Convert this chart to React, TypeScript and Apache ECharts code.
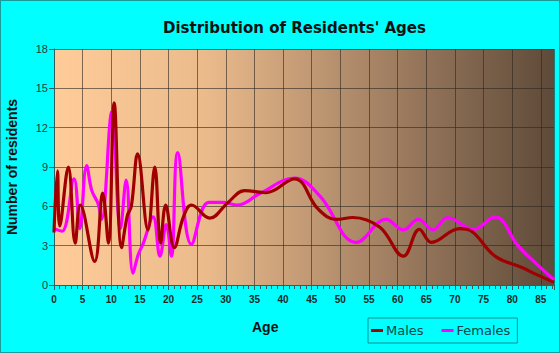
import React, { useEffect, useRef } from "react";
import * as echarts from "echarts";

const maleAges = [0, 0.6, 1.0, 2.5, 3.7, 4.6, 7.1, 8.5, 9.5, 10.5, 11.8, 12.8, 13.5, 14.6, 16.4, 17.6, 18.6, 19.5, 21.0, 22.6, 24.0, 27.2, 30.4, 33.3, 37.1, 42.0, 46.1, 49.3, 52.2, 56.9, 61.0, 63.8, 65.9, 70.8, 72.9, 77.0, 81.6, 84.0, 87.3];
const maleCounts = [4.0, 8.7, 4.5, 9.0, 3.2, 6.1, 1.8, 7.0, 3.2, 13.9, 2.85, 5.3, 6.0, 10.0, 4.2, 9.0, 3.2, 6.1, 2.85, 5.2, 6.1, 5.1, 6.3, 7.2, 7.05, 8.1, 5.8, 5.0, 5.15, 4.4, 2.2, 4.25, 3.25, 4.3, 4.1, 2.2, 1.35, 0.85, 0.2];

const femaleAges = [0, 1.4, 3.5, 4.5, 5.7, 6.6, 7.7, 8.3, 10.1, 11.6, 12.6, 13.8, 14.7, 15.6, 17.3, 18.5, 19.6, 20.5, 21.6, 24.0, 27.0, 29.5, 32.0, 36.0, 42.0, 46.4, 52.8, 58.0, 61.0, 63.6, 66.2, 68.7, 73.2, 77.0, 81.0, 84.0, 87.3];
const femaleCounts = [4.3, 4.1, 8.1, 4.3, 9.1, 7.2, 6.2, 5.0, 13.2, 4.3, 8.0, 0.9, 2.3, 3.2, 5.2, 2.2, 4.6, 2.2, 10.1, 3.1, 6.3, 6.3, 6.1, 7.0, 8.15, 6.8, 3.25, 5.0, 4.2, 5.0, 4.2, 5.15, 4.25, 5.2, 3.0, 1.7, 0.4];

const yTicks = [0, 3, 6, 9, 12, 15, 18];
const xTickStep = 5;

export default function App() {
  const ref = useRef<HTMLDivElement>(null);
  useEffect(() => {
    if (!ref.current) return;
    const chart = echarts.init(ref.current, undefined, { renderer: "svg" });
    const font = "'Liberation Sans', Arial, sans-serif";
    const wide = "'DejaVu Sans', sans-serif";
    chart.setOption({
      animation: false,
      backgroundColor: "transparent",
      title: {
        text: "Distribution of Residents' Ages",
        left: 158,
        top: 15,
        textStyle: { fontFamily: wide, fontSize: 15, fontWeight: "bold", color: "#111" },
      },
      legend: {
        data: ["Males", "Females"],
        left: 368,
        top: 318,
        borderColor: "#1a8f8f",
        borderWidth: 1,
        padding: [6, 7, 6, 3],
        itemGap: 18,
        itemWidth: 12,
        itemHeight: 3,
        icon: "rect",
        textStyle: { fontFamily: wide, fontSize: 13, color: "#114444", padding: [0, 0, 0, -2] },
      },
      grid: {
        left: 54,
        right: 6,
        top: 49,
        bottom: 68,
        outerBoundsMode: "none",
        containLabel: false,
        show: true,
        borderWidth: 0,
        backgroundColor: new echarts.graphic.LinearGradient(0, 0, 1, 0, [
          { offset: 0, color: "#FFCC99" },
          { offset: 0.3, color: "#EBBB8C" },
          { offset: 0.65, color: "#A58264" },
          { offset: 1, color: "#5E4A39" },
        ]),
      },
      xAxis: {
        type: "value",
        min: 0,
        max: 87.3,
        interval: xTickStep,
        axisLine: { show: true, lineStyle: { color: "#2f5f5f", width: 1 } },
        axisTick: { show: true, length: 5, lineStyle: { color: "#2f5f5f" } },
        minorTick: { show: true, splitNumber: 5, length: 4, lineStyle: { color: "#2f5f5f" } },
        splitLine: { show: true, lineStyle: { color: "rgba(45,38,32,0.6)", width: 1 } },
        axisLabel: {
          fontFamily: font,
          fontSize: 10,
          fontWeight: "bold",
          color: "#1a2a2a",
          margin: 9,
          formatter: (v: number) => (Math.abs(v % xTickStep) < 1e-6 ? String(v) : ""),
        },
      },
      yAxis: {
        type: "value",
        min: yTicks[0],
        max: yTicks[yTicks.length - 1],
        interval: 3,
        name: "Number of residents",
        nameLocation: "middle",
        nameGap: 35,
        nameTextStyle: { fontFamily: font, fontSize: 14, fontWeight: "bold", color: "#111" },
        axisLine: { show: true, lineStyle: { color: "#2f5f5f", width: 1 } },
        axisTick: { show: true, length: 5, lineStyle: { color: "#2f5f5f" } },
        splitLine: { show: true, lineStyle: { color: "rgba(45,38,32,0.6)", width: 1 } },
        axisLabel: { fontFamily: font, fontSize: 11, color: "#2a3a3a", margin: 6 },
      },
      graphic: [
        {
          type: "text",
          left: 252,
          top: 320,
          style: { text: "Age", font: "bold 14px 'Liberation Sans', Arial, sans-serif", fill: "#111" },
        },
      ],
      series: [
        {
          name: "Females",
          type: "line",
          smooth: 0.4,
          showSymbol: false,
          symbol: "none",
          color: "#FF00FF",
          lineStyle: { color: "#FF00FF", width: 3.2 },
          data: femaleAges.map((a, i) => [a, femaleCounts[i]]),
        },
        {
          name: "Males",
          type: "line",
          smooth: 0.4,
          showSymbol: false,
          symbol: "none",
          color: "#A00000",
          lineStyle: { color: "#A00000", width: 3.2 },
          data: maleAges.map((a, i) => [a, maleCounts[i]]),
        },
      ],
    });
    return () => chart.dispose();
  }, []);
  return (
    <div
      style={{
        position: "fixed",
        left: 0,
        top: 0,
        width: 560,
        height: 353,
        background: "#00FFFF",
        border: "1px solid #1a9a9a",
        boxSizing: "border-box",
      }}
    >
      <div ref={ref} style={{ position: "absolute", left: -1, top: -1, width: 560, height: 353 }} />
    </div>
  );
}
